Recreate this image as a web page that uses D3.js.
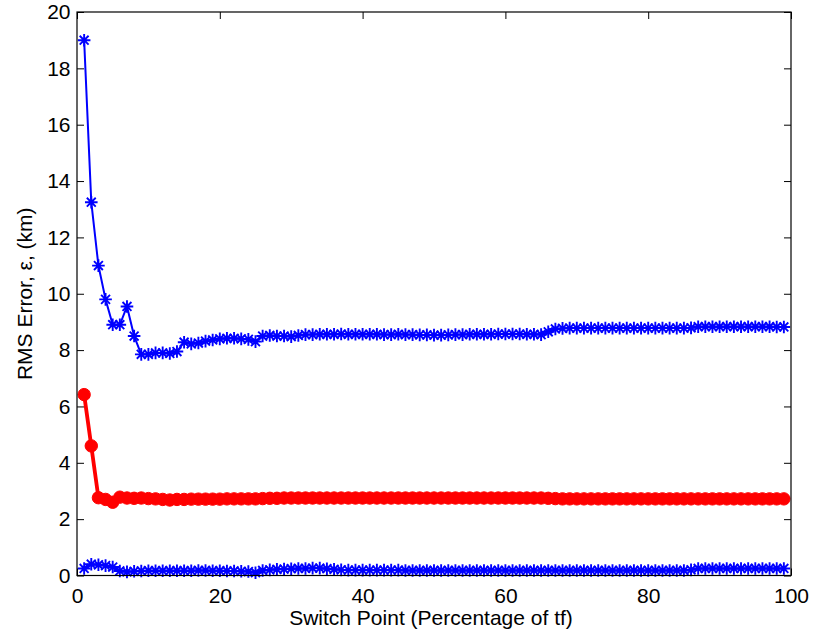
<!DOCTYPE html>
<html>
<head>
<meta charset="utf-8">
<script src="https://cdn.jsdelivr.net/npm/d3@7"></script>
<style>
  html, body { margin: 0; padding: 0; background: #fff; }
  svg { display: block; font-family: "Liberation Sans", Arial, Helvetica, sans-serif; }
</style>
</head>
<body>
<svg id="chart" width="813" height="636"></svg>
<script>
// Switch point (percent of tf)
const switchPoints = [
  1,2,3,4,5,6,7,8,9,10,11,12,13,14,15,16,17,18,19,20,
  21,22,23,24,25,26,27,28,29,30,31,32,33,34,35,36,37,38,39,40,
  41,42,43,44,45,46,47,48,49,50,51,52,53,54,55,56,57,58,59,60,
  61,62,63,64,65,66,67,68,69,70,71,72,73,74,75,76,77,78,79,80,
  81,82,83,84,85,86,87,88,89,90,91,92,93,94,95,96,97,98,99
];

// Upper bound RMS error (km)
const upperErr = [
  19.0,13.25,11.0,9.8,8.9,8.9,9.55,8.5,7.85,7.85,7.9,7.9,7.88,7.95,8.28,8.22,8.25,8.32,8.36,8.4,
  8.42,8.42,8.4,8.38,8.3,8.5,8.52,8.5,8.5,8.48,8.52,8.55,8.55,8.56,8.56,8.56,8.57,8.56,8.56,8.56,
  8.56,8.56,8.55,8.55,8.56,8.55,8.55,8.54,8.54,8.53,8.53,8.54,8.55,8.55,8.56,8.56,8.56,8.56,8.57,8.57,
  8.57,8.57,8.56,8.56,8.55,8.65,8.75,8.77,8.78,8.78,8.78,8.78,8.78,8.78,8.78,8.78,8.78,8.78,8.78,8.78,
  8.78,8.78,8.78,8.78,8.78,8.79,8.83,8.83,8.83,8.83,8.83,8.83,8.83,8.83,8.83,8.83,8.83,8.82,8.82
];

// Mean RMS error (km)
const meanErr = [
  6.42,4.6,2.76,2.7,2.6,2.78,2.75,2.74,2.75,2.73,2.72,2.7,2.68,2.7,2.7,2.71,2.71,2.71,2.71,2.71,
  2.72,2.72,2.72,2.72,2.72,2.73,2.74,2.74,2.75,2.75,2.75,2.75,2.75,2.75,2.75,2.75,2.75,2.75,2.75,2.75,
  2.75,2.75,2.75,2.75,2.75,2.75,2.75,2.75,2.75,2.75,2.75,2.75,2.75,2.75,2.75,2.75,2.75,2.75,2.75,2.75,
  2.75,2.75,2.75,2.75,2.75,2.74,2.73,2.72,2.72,2.72,2.72,2.72,2.72,2.72,2.72,2.72,2.72,2.72,2.72,2.72,
  2.72,2.72,2.72,2.72,2.72,2.72,2.72,2.72,2.72,2.72,2.72,2.72,2.72,2.72,2.72,2.72,2.72,2.72,2.72
];

// Lower bound RMS error (km)
const lowerErr = [
  0.25,0.4,0.38,0.35,0.3,0.16,0.13,0.15,0.16,0.17,0.17,0.17,0.17,0.17,0.17,0.17,0.18,0.18,0.17,0.17,
  0.16,0.16,0.15,0.14,0.1,0.18,0.2,0.22,0.23,0.24,0.25,0.25,0.26,0.26,0.24,0.22,0.2,0.19,0.19,0.19,
  0.19,0.19,0.19,0.19,0.19,0.18,0.18,0.18,0.18,0.18,0.18,0.18,0.18,0.18,0.18,0.18,0.18,0.18,0.18,0.18,
  0.18,0.18,0.18,0.18,0.18,0.18,0.18,0.18,0.18,0.18,0.18,0.18,0.18,0.18,0.18,0.18,0.18,0.18,0.18,0.18,
  0.18,0.18,0.18,0.18,0.18,0.2,0.25,0.25,0.25,0.25,0.25,0.25,0.25,0.25,0.25,0.25,0.25,0.25,0.25
];

const xTicks = [0, 20, 40, 60, 80, 100];
const yTicks = [0, 2, 4, 6, 8, 10, 12, 14, 16, 18, 20];

const svg = d3.select("#chart");
const plotLeft = 77, plotRight = 791, plotTop = 12, plotBottom = 575.5;

const x = d3.scaleLinear().domain([0, 100]).range([plotLeft, plotRight]);
const y = d3.scaleLinear().domain([0, 20]).range([plotBottom, plotTop]);

const fontSize = 21;
const tickLen = 7;

// Bottom axis, ticks pointing inward
const xAxis = svg.append("g").attr("transform", `translate(0,${plotBottom})`)
  .call(d3.axisBottom(x).tickValues(xTicks).tickSize(-tickLen).tickPadding(14).tickFormat(d3.format("d")));
// Top axis ticks
const xAxisTop = svg.append("g").attr("transform", `translate(0,${plotTop})`)
  .call(d3.axisTop(x).tickValues(xTicks).tickSize(-tickLen).tickFormat(""));
// Left axis
const yAxis = svg.append("g").attr("transform", `translate(${plotLeft},0)`)
  .call(d3.axisLeft(y).tickValues(yTicks).tickSize(-tickLen).tickPadding(14).tickFormat(d3.format("d")));
// Right axis ticks
const yAxisRight = svg.append("g").attr("transform", `translate(${plotRight},0)`)
  .call(d3.axisRight(y).tickValues(yTicks).tickSize(-tickLen).tickFormat(""));

[xAxis, xAxisTop, yAxis, yAxisRight].forEach(g => {
  g.select(".domain").remove();
  g.selectAll(".tick line").attr("stroke", "#000").attr("stroke-width", 1);
  g.selectAll(".tick text").attr("fill", "#000").attr("font-size", fontSize)
    .attr("font-family", "Liberation Sans, Arial, sans-serif");
});
xAxis.selectAll(".tick text").attr("dy", "0.71em").attr("y", 12.5);
yAxis.selectAll(".tick text").attr("x", -6.5);

const seriesPts = vals => switchPoints.map((p, i) => [p, vals[i]]);
const line = d3.line().x(d => x(d[0])).y(d => y(d[1]));

// Asterisk marker path (plus + cross), half size r
function asterisk(r) {
  const d = r * Math.SQRT1_2;
  return `M${-r},0L${r},0M0,${-r}L0,${r}M${-d},${-d}L${d},${d}M${-d},${d}L${d},${-d}`;
}

function drawStarSeries(vals) {
  const pts = seriesPts(vals);
  svg.append("path").datum(pts).attr("d", line)
    .attr("fill", "none").attr("stroke", "#0000ff").attr("stroke-width", 2)
    .attr("stroke-linejoin", "round");
  svg.append("g").selectAll("path").data(pts).join("path")
    .attr("transform", d => `translate(${x(d[0])},${y(d[1])})`)
    .attr("d", asterisk(6.3))
    .attr("fill", "none").attr("stroke", "#0000ff").attr("stroke-width", 1.9);
}

drawStarSeries(upperErr);
drawStarSeries(lowerErr);

// Mean series: thick red line with filled circles
const meanPts = seriesPts(meanErr);
svg.append("path").datum(meanPts).attr("d", line)
  .attr("fill", "none").attr("stroke", "#ff0000").attr("stroke-width", 3.8)
  .attr("stroke-linejoin", "round");
svg.append("g").selectAll("circle").data(meanPts).join("circle")
  .attr("cx", d => x(d[0])).attr("cy", d => y(d[1])).attr("r", 6.2)
  .attr("fill", "#ff0000").attr("stroke", "#ff0000").attr("stroke-width", 1);

// Axes box
svg.append("rect").attr("x", plotLeft).attr("y", plotTop)
  .attr("width", plotRight - plotLeft).attr("height", plotBottom - plotTop)
  .attr("fill", "none").attr("stroke", "#000").attr("stroke-width", 1.2);

// Axis titles
svg.append("text")
  .attr("x", (plotLeft + plotRight) / 2 - 3).attr("y", 625)
  .attr("text-anchor", "middle").attr("font-size", fontSize).attr("fill", "#000")
  .text("Switch Point (Percentage of tf)");

svg.append("text")
  .attr("transform", `translate(32,${(plotTop + plotBottom) / 2}) rotate(-90)`)
  .attr("text-anchor", "middle").attr("font-size", fontSize).attr("fill", "#000")
  .text("RMS Error, ε, (km)");
</script>
</body>
</html>
